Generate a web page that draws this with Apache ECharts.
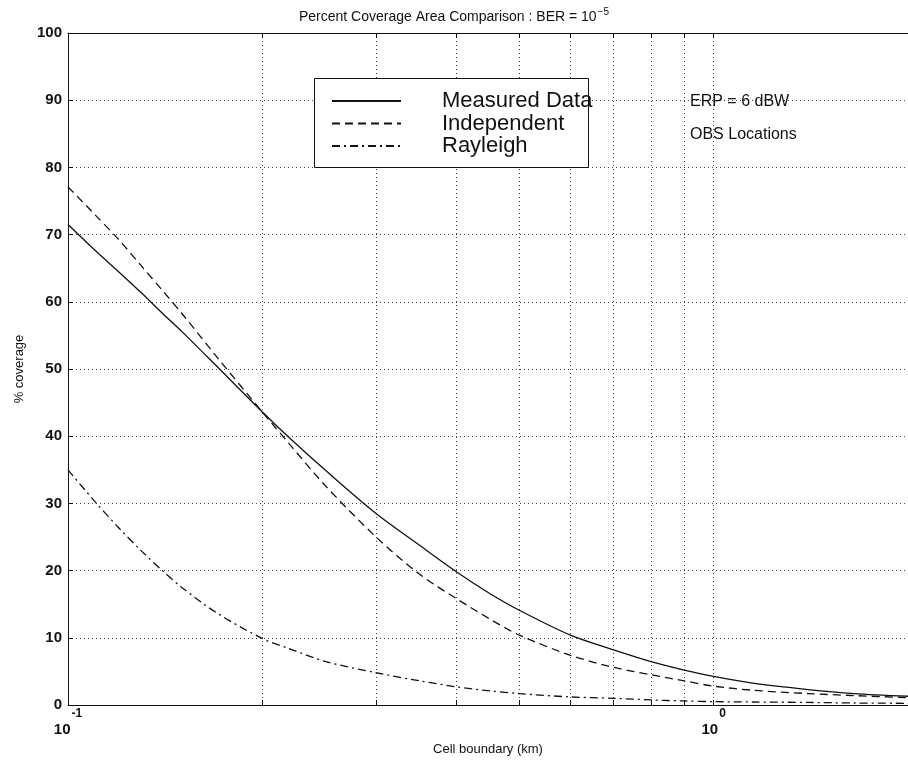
<!DOCTYPE html>
<html><head><meta charset="utf-8">
<script src="https://cdn.jsdelivr.net/npm/echarts@6/dist/echarts.min.js"></script>
<style>html,body{margin:0;padding:0;background:#fff}#c{width:908px;height:767px}</style>
</head><body><div id="c"></div>
<script>
// ---- data ----
const xValues     = [0.1, 0.11, 0.12, 0.13, 0.14, 0.15, 0.17, 0.2, 0.22, 0.25, 0.3, 0.35, 0.4, 0.45, 0.5, 0.6, 0.7, 0.8, 0.9, 1.0, 1.15, 1.4, 1.65, 2.0];
const measured    = [71.5, 67.7, 64.4, 61.3, 58.3, 55.6, 50.4, 43.6, 39.8, 35.0, 28.5, 23.8, 19.8, 16.6, 14.1, 10.4, 8.2, 6.45, 5.2, 4.25, 3.25, 2.3, 1.7, 1.3];
const independent = [77.1, 73.0, 69.2, 65.3, 61.7, 58.3, 51.8, 43.6, 38.9, 32.7, 25.0, 19.5, 15.8, 12.8, 10.4, 7.4, 5.6, 4.5, 3.6, 2.8, 2.2, 1.7, 1.4, 1.1];
const rayleigh    = [35.0, 30.3, 26.3, 22.9, 20.0, 17.5, 13.7, 9.9, 8.4, 6.5, 4.8, 3.6, 2.7, 2.1, 1.7, 1.2, 1.0, 0.75, 0.6, 0.5, 0.45, 0.38, 0.3, 0.25];
const seriesNames = ['Measured Data', 'Independent', 'Rayleigh'];
const xGridValues = [0.1, 0.2, 0.3, 0.4, 0.5, 0.6, 0.7, 0.8, 0.9, 1, 2];
const xLabelValues = [0.1, 1];
const yMin = 0, yMax = 100, yStep = 10;
const xMin = 0.1, xMax = 2;
const titleText = 'Percent Coverage Area Comparison : BER = 10';
const titleExp = '\u22125';
const xName = 'Cell boundary (km)';
const yName = '% coverage';
const notes = ['ERP = 6 dBW', 'OBS Locations'];

const FONT = '"Liberation Sans", Arial, Helvetica, sans-serif';
const pairs = arr => xValues.map((x, i) => [x, arr[i]]);

const chart = echarts.init(document.getElementById('c'), null, {renderer: 'canvas'});
const gridDot = {show: true, lineStyle: {color: '#444', width: 1, type: [1, 3]}};
const lineBase = {color: '#111', width: 1.3};

chart.setOption({
  backgroundColor: '#fff',
  animation: false,
  title: {
    text: '{t|' + titleText + '}{s|' + titleExp + '}',
    left: 'center', top: 2,
    textStyle: {
      fontWeight: 'normal',
      rich: {
        t: {fontFamily: FONT, fontSize: 14, fontWeight: 'normal', color: '#111', verticalAlign: 'bottom'},
        s: {fontFamily: FONT, fontSize: 10, fontWeight: 'normal', color: '#111', padding: [0, 0, 7, 1], verticalAlign: 'bottom'}
      }
    }
  },
  grid: {left: 68, top: 33, bottom: 62, right: -10, containLabel: false},
  legend: {
    orient: 'vertical', left: 314, top: 90, z: 10,
    padding: [0, 0, 0, 17],
    itemWidth: 69, itemHeight: 21, itemGap: 0.5,
    data: seriesNames,
    itemStyle: {opacity: 0},
    textStyle: {fontFamily: FONT, fontSize: 22, color: '#111', padding: [0, 0, 0, 36], lineHeight: 21},
    selectedMode: false
  },
  graphic: [
    {type: 'rect', left: 314, top: 78, z: 5, shape: {width: 274, height: 89},
     style: {fill: '#fff', stroke: '#111', lineWidth: 1}},
    {type: 'text', left: 690, top: 94, z: 5, style: {text: notes[0], font: '16px ' + FONT, fill: '#111'}},
    {type: 'text', left: 690, top: 127, z: 5, style: {text: notes[1], font: '16px ' + FONT, fill: '#111'}}
  ],
  xAxis: [{
    type: 'log', logBase: 10, min: xMin, max: xMax, position: 'bottom',
    name: xName, nameLocation: 'middle', nameGap: 38,
    nameTextStyle: {fontFamily: FONT, fontSize: 13, color: '#111'},
    axisLine: {show: true, lineStyle: {color: '#111', width: 1}},
    axisTick: {show: true, inside: true, length: 5, customValues: xGridValues, lineStyle: {color: '#111'}},
    minorTick: {show: false},
    axisLabel: {
      customValues: xLabelValues, margin: 3,
      formatter: v => '{b|10}{s|' + String(Math.round(Math.log10(v))) + '}',
      rich: {
        b: {fontFamily: FONT, fontSize: 15, fontWeight: 'bold', color: '#111', verticalAlign: 'bottom', padding: [14, 0, 0, 0]},
        s: {fontFamily: FONT, fontSize: 12, fontWeight: 'bold', color: '#111', verticalAlign: 'bottom', padding: [0, 0, 17, 1]}
      }
    },
    splitLine: gridDot
  }, {
    type: 'log', logBase: 10, min: xMin, max: xMax, position: 'top',
    axisLine: {show: true, lineStyle: {color: '#111', width: 1}},
    axisTick: {show: true, inside: true, length: 5, customValues: xGridValues, lineStyle: {color: '#111'}},
    axisLabel: {show: false},
    splitLine: {show: false}
  }],
  yAxis: {
    type: 'value', min: yMin, max: yMax, interval: yStep,
    name: yName, nameLocation: 'middle', nameGap: 42, nameRotate: 90,
    nameTextStyle: {fontFamily: FONT, fontSize: 13, color: '#111'},
    axisLine: {show: true, lineStyle: {color: '#111', width: 1}},
    axisTick: {show: true, inside: true, length: 5, lineStyle: {color: '#111'}},
    axisLabel: {fontFamily: FONT, fontSize: 15, fontWeight: 'bold', color: '#111', margin: 6},
    splitLine: gridDot
  },
  series: [
    {name: seriesNames[0], type: 'line', data: pairs(measured), showSymbol: false, symbol: 'none', smooth: 0.3,
     lineStyle: Object.assign({}, lineBase, {type: 'solid'}), itemStyle: {color: '#111'}, z: 3},
    {name: seriesNames[1], type: 'line', data: pairs(independent), showSymbol: false, symbol: 'none', smooth: 0.3,
     lineStyle: Object.assign({}, lineBase, {type: [8, 5]}), itemStyle: {color: '#111'}, z: 3},
    {name: seriesNames[2], type: 'line', data: pairs(rayleigh), showSymbol: false, symbol: 'none', smooth: 0.3,
     lineStyle: Object.assign({}, lineBase, {type: [8, 4, 2, 4]}), itemStyle: {color: '#111'}, z: 3}
  ]
});
</script>
</body></html>
